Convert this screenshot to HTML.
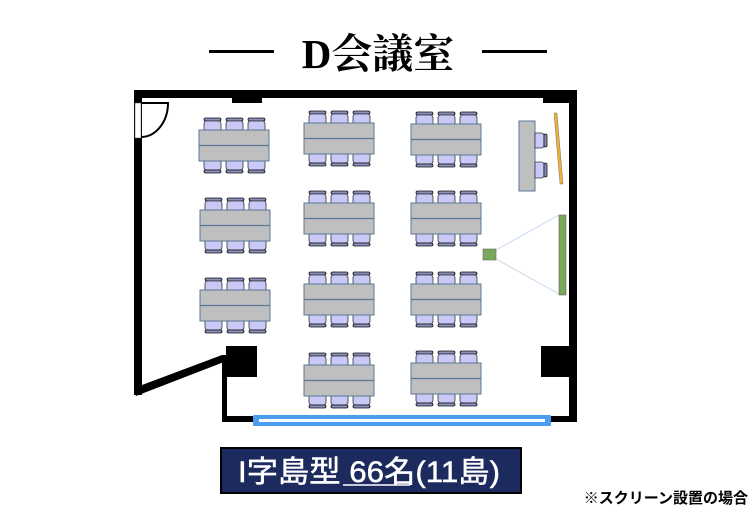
<!DOCTYPE html>
<html><head><meta charset="utf-8"><style>
html,body{margin:0;padding:0;background:#fff;}
svg{display:block;}
</style></head><body>
<svg width="756" height="525" viewBox="0 0 756 525" xmlns="http://www.w3.org/2000/svg">
<defs>
<g id="chU">
  <rect x="1" y="0" width="17" height="3" rx="1.5" fill="#8a8fb8" stroke="#111" stroke-width="0.8"/>
  <path d="M1,12 V6 Q1,3 4,3 H15 Q18,3 18,6 V12 Z" fill="#c9c9f7" stroke="#333" stroke-width="0.8"/>
</g>
<g id="chD">
  <path d="M1,0 V6 Q1,9 4,9 H15 Q18,9 18,6 V0 Z" fill="#c9c9f7" stroke="#333" stroke-width="0.8"/>
  <rect x="1" y="9" width="17" height="3" rx="1.5" fill="#8a8fb8" stroke="#111" stroke-width="0.8"/>
</g>
<g id="isl">
  <use href="#chU" x="4" y="-12"/><use href="#chU" x="26" y="-12"/><use href="#chU" x="48" y="-12"/>
  <use href="#chD" x="4" y="31"/><use href="#chD" x="26" y="31"/><use href="#chD" x="48" y="31"/>
  <rect x="0" y="0" width="70" height="31" fill="#bfbfbf" stroke="#5a7896" stroke-width="1"/>
  <line x1="0" y1="15.5" x2="70" y2="15.5" stroke="#5a7896" stroke-width="1.2"/>
</g>
</defs>

<!-- title -->
<rect x="209" y="50" width="65" height="3" fill="#000"/>
<rect x="482" y="50" width="65" height="3" fill="#000"/>
<text x="378" y="68" text-anchor="middle" font-family="'Liberation Serif','Noto Serif CJK SC',serif" font-weight="bold" font-size="41">D会議室</text>

<!-- walls -->
<rect x="134" y="90" width="443" height="8" fill="#000"/>
<rect x="543" y="90" width="34" height="13" fill="#000"/>
<rect x="232" y="96" width="30" height="7" fill="#000"/>
<rect x="134" y="90" width="8" height="305" fill="#000"/>
<rect x="569" y="90" width="8" height="332" fill="#000"/>
<polygon points="134,388 222,355 224,362 136,396" fill="#000"/>
<rect x="222" y="355" width="5" height="67" fill="#000"/>
<rect x="222" y="416" width="33" height="6" fill="#000"/>
<rect x="549" y="416" width="28" height="6" fill="#000"/>
<rect x="226" y="346" width="31" height="31" fill="#000"/>
<rect x="541" y="346" width="29" height="31" fill="#000"/>
<!-- window -->
<rect x="253" y="415" width="298" height="11" fill="#4a9df0" rx="1"/>
<rect x="259" y="419" width="286" height="3" fill="#fff"/>
<!-- door -->
<rect x="135" y="103" width="6" height="35" fill="#fff" stroke="#555" stroke-width="0.5"/>
<path d="M141,103 H168 A27,34 0 0 1 141,137" fill="none" stroke="#000" stroke-width="2"/>

<!-- islands -->
<use href="#isl" x="199" y="130"/>
<use href="#isl" x="304" y="123"/>
<use href="#isl" x="411" y="124"/>
<use href="#isl" x="200" y="210"/>
<use href="#isl" x="304" y="203"/>
<use href="#isl" x="411" y="203"/>
<use href="#isl" x="200" y="290"/>
<use href="#isl" x="304" y="284"/>
<use href="#isl" x="411" y="284"/>
<use href="#isl" x="304" y="365"/>
<use href="#isl" x="411" y="363"/>

<!-- lectern -->
<rect x="519" y="121" width="16" height="70" fill="#bfbfbf" stroke="#5a7896" stroke-width="1"/>
<g>
  <path d="M535,133 H541 Q544,133 544,136 V145 Q544,148 541,148 H535 Z" fill="#c9c9f7" stroke="#333" stroke-width="0.8"/>
  <rect x="544" y="134" width="3" height="13" rx="1.5" fill="#8a8fb8" stroke="#111" stroke-width="0.8"/>
  <path d="M535,162 H541 Q544,162 544,165 V175 Q544,178 541,178 H535 Z" fill="#c9c9f7" stroke="#333" stroke-width="0.8"/>
  <rect x="544" y="163" width="3" height="14" rx="1.5" fill="#8a8fb8" stroke="#111" stroke-width="0.8"/>
</g>
<polygon points="554,113 557,113 563,184 560,184" fill="#f0b030" stroke="#777" stroke-width="0.5"/>

<!-- projector & screen -->
<line x1="496" y1="250" x2="559" y2="215" stroke="#c8d6ec" stroke-width="1"/>
<line x1="496" y1="259" x2="559" y2="294" stroke="#c8d6ec" stroke-width="1"/>
<rect x="559" y="215" width="7" height="80" fill="#7aa85a" stroke="#666" stroke-width="0.6"/>
<rect x="483" y="249" width="13" height="11" fill="#7aa85a" stroke="#666" stroke-width="0.6"/>

<!-- label -->
<rect x="221" y="448" width="300" height="45" fill="#1c2a5e" stroke="#000" stroke-width="2"/>
<text x="369" y="482" text-anchor="middle" fill="#fff" stroke="#fff" stroke-width="0.5" font-family="'Liberation Sans','Noto Sans CJK JP',sans-serif" font-size="30" textLength="262" lengthAdjust="spacingAndGlyphs">I字島型 66名(11島)</text>
<line x1="343" y1="485" x2="410" y2="485" stroke="#fff" stroke-width="1.5"/>
<text x="748" y="503" text-anchor="end" fill="#000" font-family="'Liberation Sans','Noto Sans CJK JP',sans-serif" font-weight="bold" font-size="15">※スクリーン設置の場合</text>
</svg>
</body></html>
